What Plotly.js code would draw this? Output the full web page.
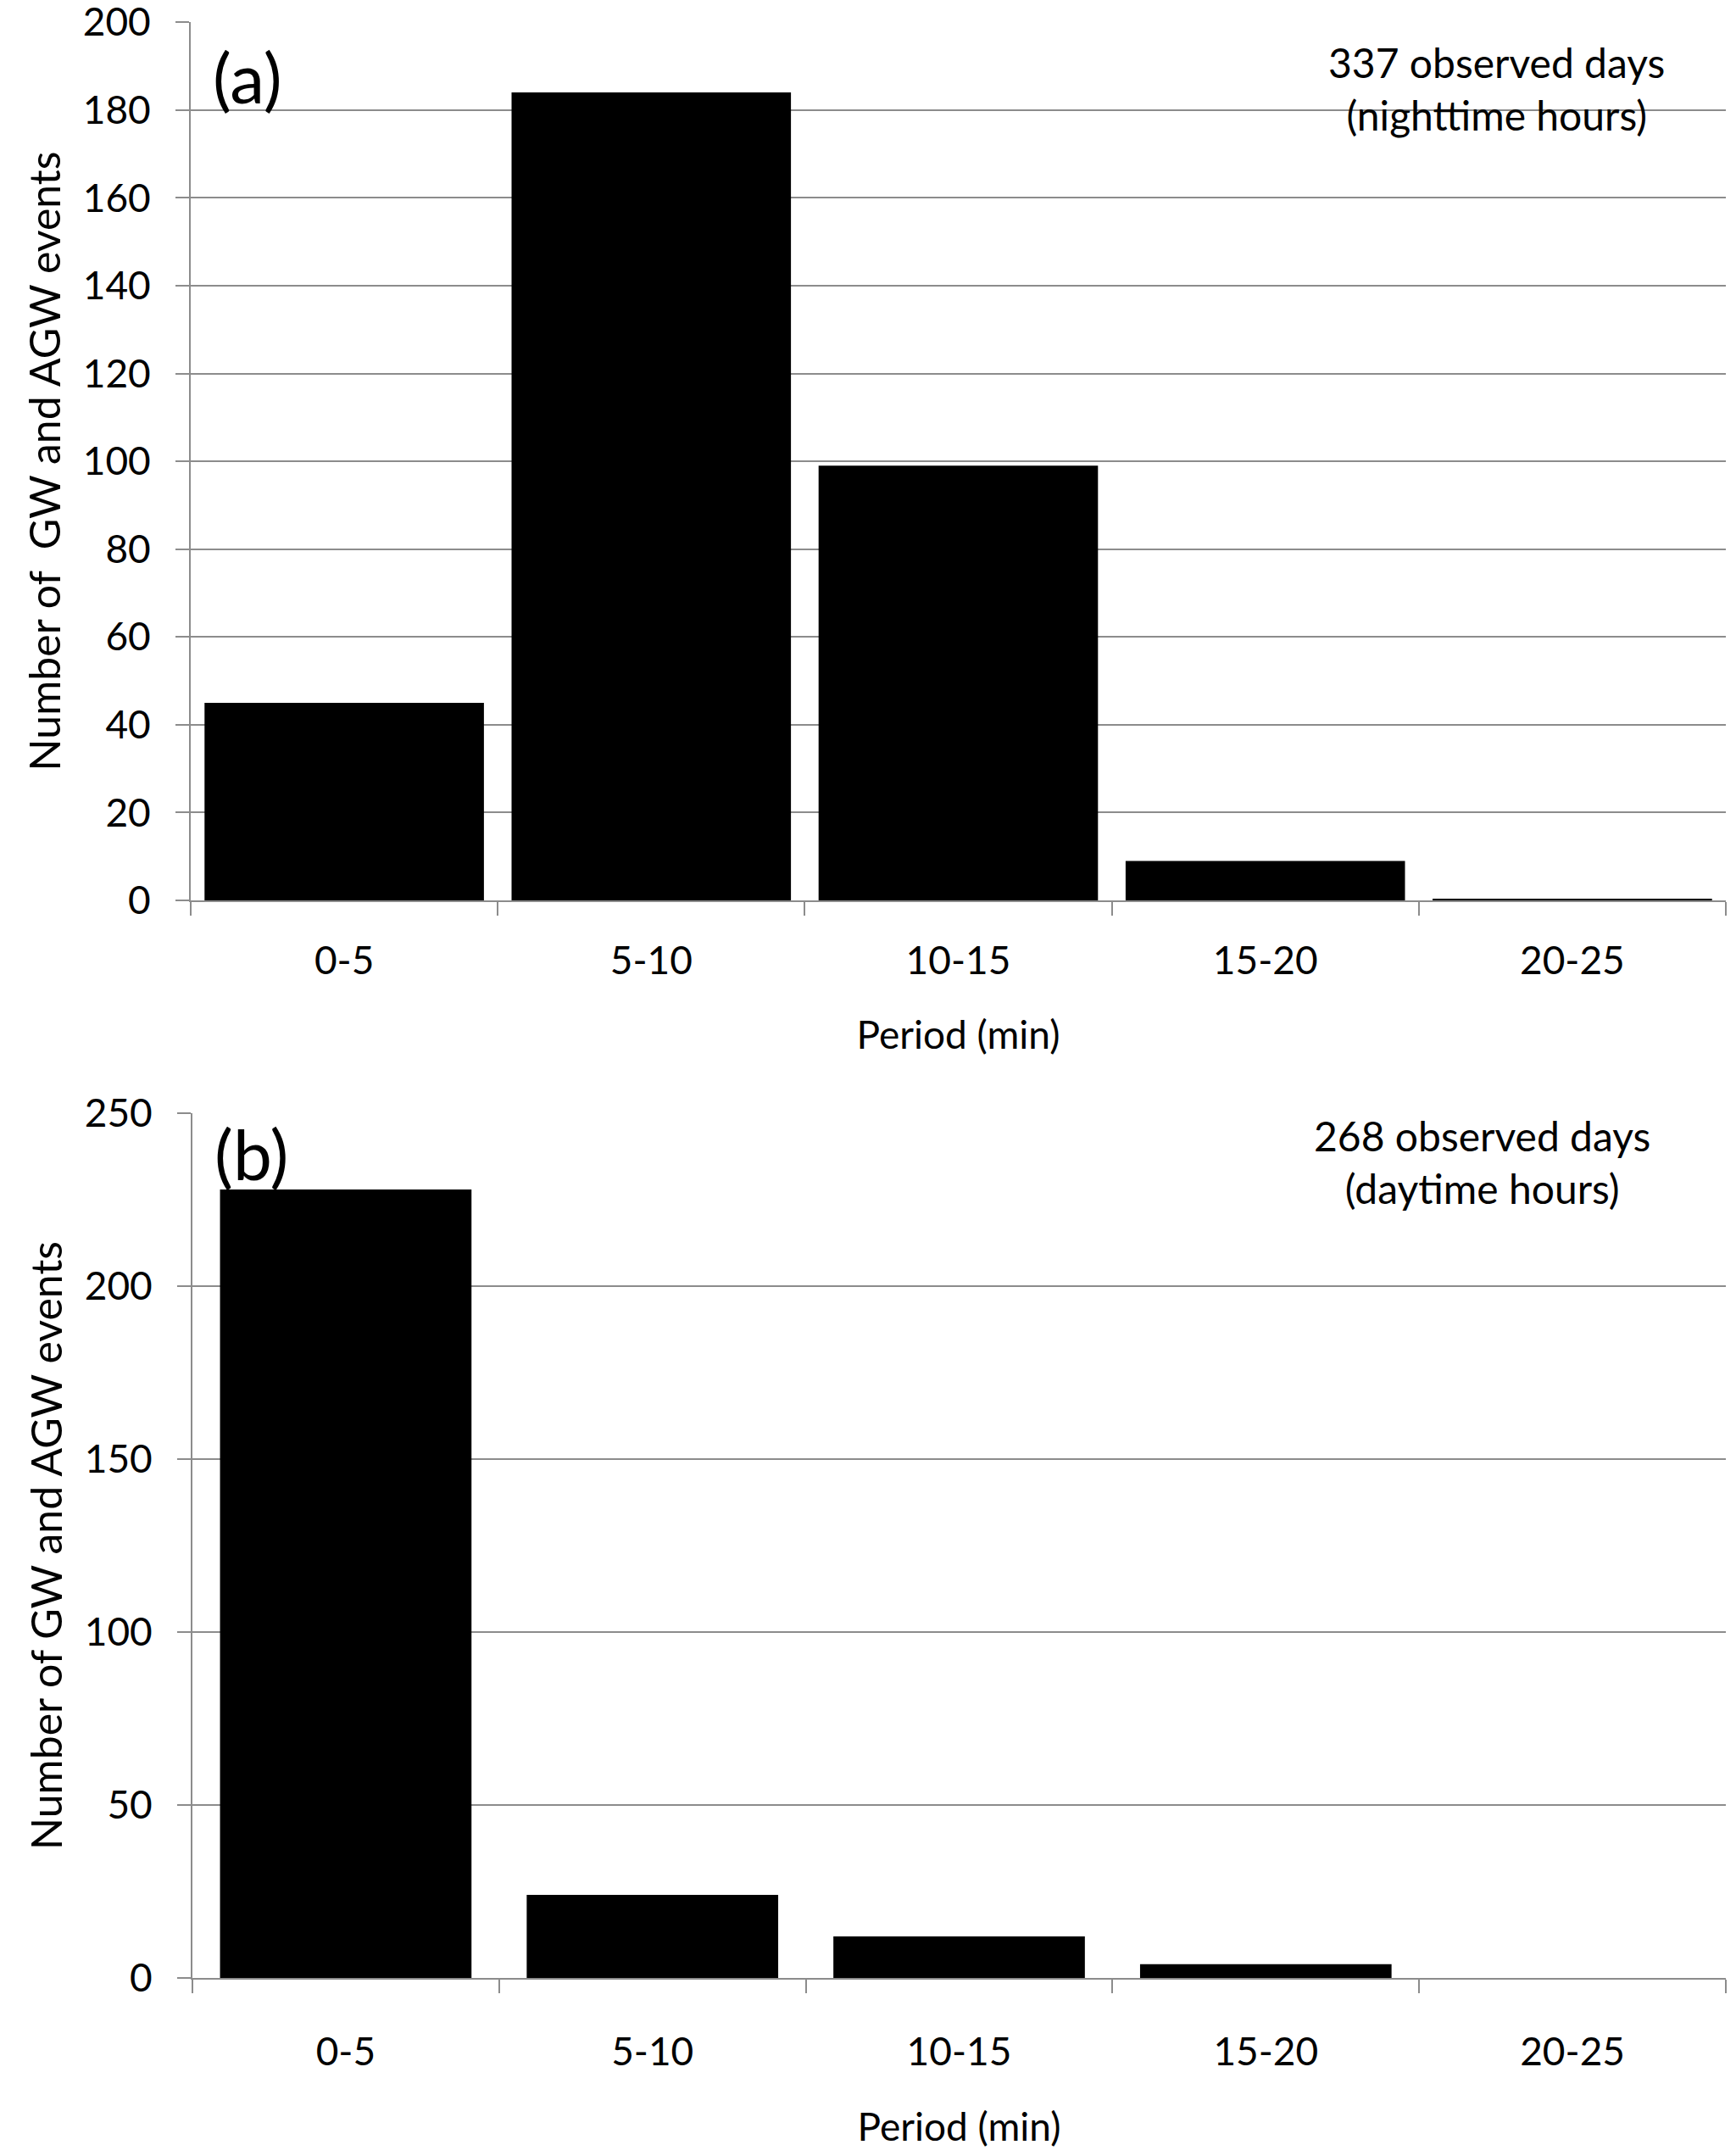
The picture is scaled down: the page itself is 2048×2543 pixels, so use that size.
<!DOCTYPE html>
<html>
<head>
<meta charset="utf-8">
<script src="https://cdn.plot.ly/plotly-3.0.1.min.js"></script>
<style>html,body{margin:0;padding:0;background:#fff;}#chart{width:2048px;height:2543px;}</style>
</head>
<body>
<div id="chart"></div>
<script>
const categories = ["0-5", "5-10", "10-15", "15-20", "20-25"];
const nightEvents = [45, 184, 99, 9, 0.4];
const dayEvents = [228, 24, 12, 4, 0];
const topTickVals = [0, 20, 40, 60, 80, 100, 120, 140, 160, 180, 200];
const bottomTickVals = [0, 50, 100, 150, 200, 250];
const xTitle = "Period (min)";
const yTitleTop = "Number of  GW and AGW events";
const yTitleBottom = "Number of GW and AGW events";
const noteTop = "337 observed days<br>(nighttime hours)";
const noteBottom = "268 observed days<br>(daytime hours)";

const FONT = "Lato, 'Open Sans', sans-serif";
const GRID = "#8c8c8c";

const traces = [
  {type: "bar", x: categories, y: nightEvents, xaxis: "x", yaxis: "y", width: 0.91,
   marker: {color: "#000000", line: {width: 0}}, hoverinfo: "x+y"},
  {type: "bar", x: categories, y: dayEvents, xaxis: "x2", yaxis: "y2", width: 0.82,
   marker: {color: "#000000", line: {width: 0}}, hoverinfo: "x+y"}
];

function xax(domain, anchor, labelStandoff, titleStandoff) {
  return {
    domain: domain, anchor: anchor, type: "category",
    showgrid: false, zeroline: false,
    showline: true, linecolor: GRID, linewidth: 2,
    ticks: "outside", ticklen: 16, tickwidth: 2, tickcolor: GRID,
    tickson: "boundaries",
    tickfont: {family: FONT, size: 46, color: "#000"},
    ticklabelstandoff: labelStandoff,
    ticklabeloverflow: "allow",
    title: {text: xTitle, font: {family: FONT, size: 46, color: "#000"}, standoff: titleStandoff},
    automargin: false
  };
}
function yax(domain, anchor, range, tickvals, title) {
  return {
    domain: domain, anchor: anchor, range: range,
    tickvals: tickvals, ticktext: tickvals.map(String),
    showgrid: true, gridcolor: GRID, gridwidth: 2,
    zeroline: false,
    showline: true, linecolor: GRID, linewidth: 2,
    ticks: "outside", ticklen: 16, tickwidth: 2, tickcolor: GRID,
    tickfont: {family: FONT, size: 46, color: "#000"},
    ticklabelstandoff: 20,
    ticklabeloverflow: "allow",
    title: {text: title, font: {family: FONT, size: 50, color: "#000"}, standoff: 10},
    automargin: false
  };
}

const H = 2543, W = 2048;
const layout = {
  width: W, height: H,
  margin: {l: 0, r: 0, t: 0, b: 0},
  paper_bgcolor: "#fff", plot_bgcolor: "#fff",
  showlegend: false,
  xaxis: xax([225 / W, 2036 / W], "y", 30, 47),
  yaxis: yax([(H - 1062) / H, (H - 26) / H], "x", [0, 200.05], topTickVals, yTitleTop),
  xaxis2: xax([227 / W, 2036 / W], "y2", 46, 48),
  yaxis2: yax([(H - 2333) / H, (H - 1313) / H], "x2", [0, 250.05], bottomTickVals, yTitleBottom),
  annotations: [
    {text: "(a)", xref: "paper", yref: "paper", x: 292 / W, y: (H - 90) / H,
     xanchor: "center", yanchor: "middle", showarrow: false,
     font: {family: FONT, size: 82, color: "#000"}},
    {text: "(b)", xref: "paper", yref: "paper", x: 296 / W, y: (H - 1360) / H,
     xanchor: "center", yanchor: "middle", showarrow: false,
     font: {family: FONT, size: 82, color: "#000"}},
    {text: noteTop, xref: "paper", yref: "paper", x: 1765 / W, y: (H - 104) / H,
     xanchor: "center", yanchor: "middle", showarrow: false, align: "center",
     font: {family: FONT, size: 48, color: "#000"}},
    {text: noteBottom, xref: "paper", yref: "paper", x: 1748 / W, y: (H - 1370) / H,
     xanchor: "center", yanchor: "middle", showarrow: false, align: "center",
     font: {family: FONT, size: 48, color: "#000"}}
  ]
};

Plotly.newPlot("chart", traces, layout, {staticPlot: true});
</script>
</body>
</html>
